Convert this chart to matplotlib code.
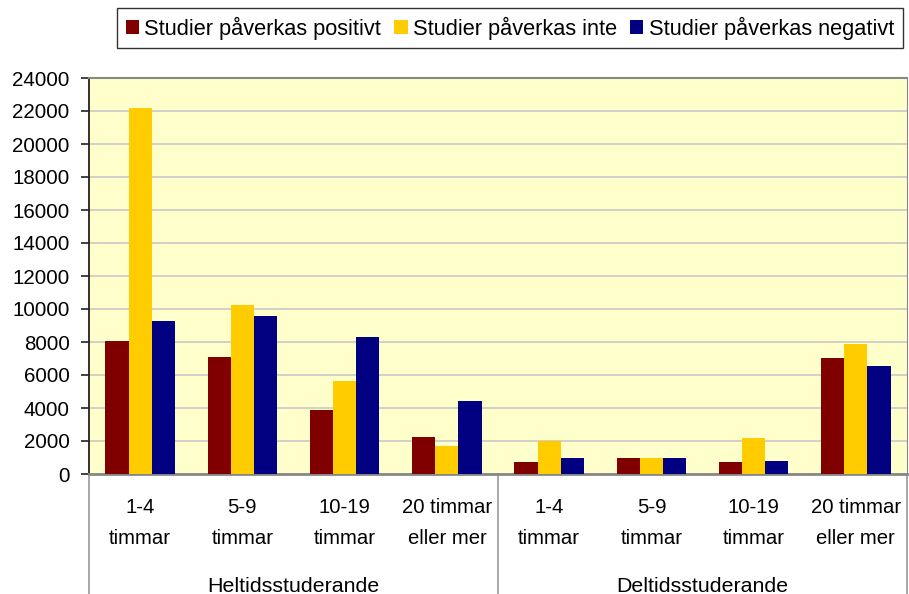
"""Grouped bar chart: how studies are affected by hours of work."""

from matplotlib import pyplot as plt
import numpy as np

plt.rcParams['font.family'] = ['Liberation Sans', 'DejaVu Sans']

# data
categories = ["1-4\ntimmar", "5-9\ntimmar", "10-19\ntimmar", "20 timmar\neller mer",
              "1-4\ntimmar", "5-9\ntimmar", "10-19\ntimmar", "20 timmar\neller mer"]
groups = ["Heltidsstuderande", "Deltidsstuderande"]
series_names = ["Studier påverkas positivt", "Studier påverkas inte",
                "Studier påverkas negativt"]
positivt = [8050, 7100, 3900, 2250, 750, 1000, 750, 7050]
inte = [22200, 10250, 5650, 1700, 2000, 1000, 2200, 7850]
negativt = [9250, 9550, 8300, 4400, 1000, 1000, 800, 6550]
yticks = list(range(0, 24001, 2000))

colors = ["#800000", "#FFCC00", "#000080"]

fig = plt.figure(figsize=(9.09, 5.94), dpi=100)
ax = fig.add_axes([89 / 909, 120 / 594, 818 / 909, 396 / 594])
ax.set_facecolor("#FFFFCC")

x = np.arange(len(categories))
w = 0.226
for k, (vals, name) in enumerate(zip([positivt, inte, negativt], series_names)):
    ax.bar(x + (k - 1) * w, vals, width=w, color=colors[k], label=name, zorder=3)

ax.set_xlim(-0.5, len(categories) - 0.5)
ax.set_ylim(0, 24000)
ax.set_yticks(yticks)
ax.set_yticklabels([str(t) for t in yticks], fontsize=14.8)
ax.yaxis.grid(True, color="#C8C8C8", linewidth=1.2, zorder=0)
ax.tick_params(axis="y", direction="out", length=6, width=1.2, color="#222222", pad=8)

ax.set_xticks(x)
ax.set_xticklabels(categories, fontsize=14.6, linespacing=1.85)
ax.tick_params(axis="x", length=0, pad=17)

ax.spines["left"].set_color("#222222")
ax.spines["left"].set_linewidth(1.3)
ax.spines["bottom"].set_color("#888888")
ax.spines["bottom"].set_linewidth(2)
ax.spines["top"].set_color("#888888")
ax.spines["top"].set_linewidth(1.5)
ax.spines["right"].set_color("#888888")

# group labels and separators below the axis
trans = ax.get_xaxis_transform()
for gx in [-0.5, 3.5, 7.5]:
    ax.plot([gx, gx], [0, -0.31], transform=trans, color="#A0A0A0",
            linewidth=1.3, clip_on=False)
for i, g in enumerate(groups):
    ax.text(1.5 + 4 * i, -0.283, g, transform=trans, ha="center", va="center",
            fontsize=15.4)

fig.legend(loc="center", bbox_to_anchor=(510 / 909, 1 - 28 / 594), ncol=3,
           fontsize=15.7, frameon=True, fancybox=False, edgecolor="#000000",
           handlelength=0.6, handleheight=0.6, handletextpad=0.25,
           columnspacing=0.6, borderpad=0.4, borderaxespad=0)

fig.savefig("out.png", dpi=100)
